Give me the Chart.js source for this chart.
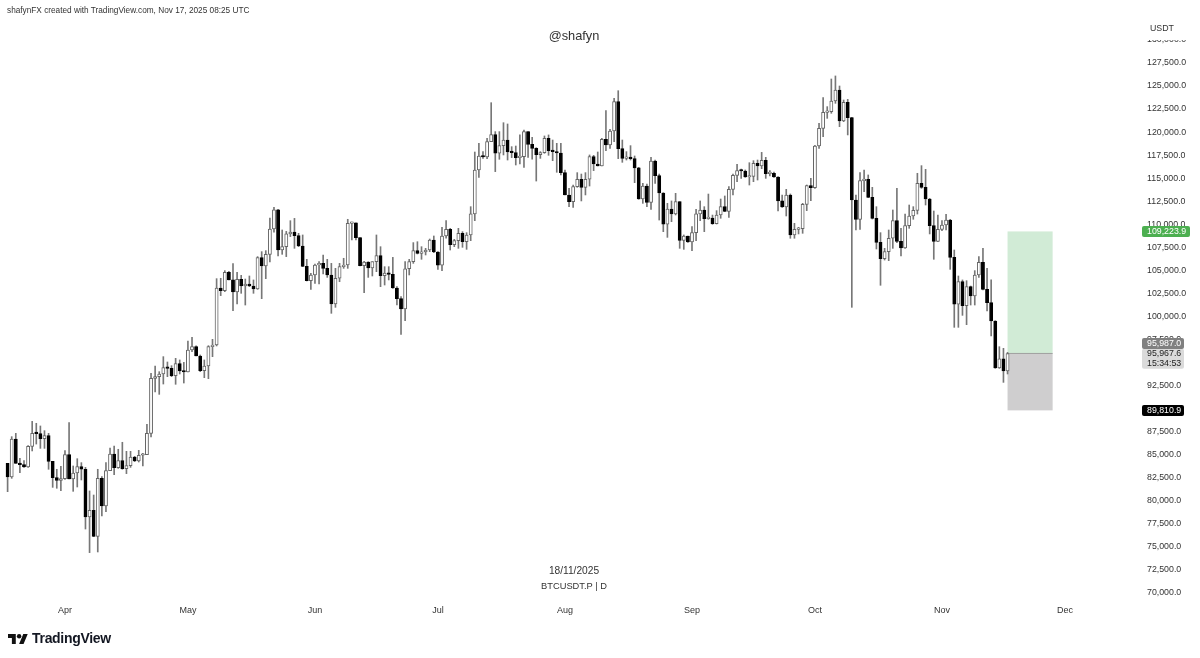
<!DOCTYPE html>
<html>
<head>
<meta charset="utf-8">
<title>BTCUSDT.P | D</title>
<script src="https://cdn.jsdelivr.net/npm/chart.js@4/dist/chart.umd.min.js"></script>
<style>
  body { margin: 0; background: #fff; font-family: "Liberation Sans", Arial, sans-serif; color: #333; }
  #wrap { position: relative; width: 1200px; height: 658px; overflow: hidden; }
  canvas { display: block; }
  .txt { position: absolute; white-space: nowrap; }
  .center { transform: translateX(-50%); }
</style>
</head>
<body>
<div id="wrap">
  <canvas id="chart" width="1200" height="658"></canvas>
  <div class="txt" style="left:7px;top:6px;font-size:8.25px;">shafynFX created with TradingView.com, Nov 17, 2025 08:25 UTC</div>
  <div class="txt center" style="left:574px;top:28px;font-size:12.8px;">@shafyn</div>
  <div class="txt center" style="left:574px;top:565px;font-size:10.2px;">18/11/2025</div>
  <div class="txt center" style="left:574px;top:581px;font-size:9.3px;">BTCUSDT.P | D</div>
  <svg class="txt" style="left:8px;top:632px;" width="20" height="14" viewBox="0 3 36 20"><path fill="#111" d="M14 22H7V11H0V4h14v18zM28 22h-8l7.5-18h8L28 22z"/><circle fill="#111" cx="20" cy="8" r="4"/></svg>
  <div class="txt" style="left:32px;top:630px;font-size:14px;font-weight:bold;color:#131722;letter-spacing:-0.3px;">TradingView</div>
</div>
<script>
// daily candles, index 0 = 18 Mar 2025, every open is the previous close
const firstOpen = 84070;
const closes = [
  82580, 86710, 84070, 83920, 83670, 85910, 87320, 87290, 86740, 87070,
  84280, 82510, 82220, 82400, 85010, 82370, 83020, 83710, 83420, 78250,
  78970, 76150, 82440, 79440, 83270, 85080, 83600, 84360, 83490, 83810,
  84750, 84320, 84940, 85010, 87320, 93290, 93470, 93760, 94450, 94370,
  93580, 94880, 94080, 93970, 96360, 96720, 95710, 94120, 94630, 96720,
  96900, 103090, 102800, 104790, 103960, 102650, 104030, 103300, 103520, 103300,
  102980, 106380, 105470, 106740, 109490, 111580, 107210, 107570, 108950, 109160,
  108760, 107640, 105440, 103880, 104500, 105580, 105760, 105220, 104500, 101350,
  104140, 105400, 105580, 110100, 110170, 108550, 105510, 105910, 105260, 105940,
  106600, 104430, 104710, 104570, 103090, 101930, 100810, 105180, 105940, 107140,
  106850, 106990, 107210, 108290, 106990, 105550, 108730, 109450, 107790, 108220,
  109020, 108110, 108840, 111120, 115890, 117410, 117300, 118960, 119720, 117700,
  118530, 119140, 117840, 117770, 117230, 117330, 120050, 118670, 118240, 117550,
  117770, 119320, 117990, 117880, 117730, 115600, 113180, 112450, 114080, 114880,
  114010, 114880, 117330, 116540, 116320, 119210, 118600, 120120, 123300, 118200,
  117150, 117190, 117120, 116110, 112740, 114150, 112380, 116860, 115270, 113390,
  110010, 111660, 111120, 112450, 108260, 108730, 108080, 109090, 111120, 111550,
  110610, 110680, 110070, 111010, 111910, 111400, 113790, 115310, 115820, 115780,
  115130, 115200, 116610, 116320, 116940, 115490, 115530, 115130, 112530, 111870,
  113180, 108840, 109450, 109520, 112160, 114190, 113970, 118490, 120410, 122140,
  122220, 123370, 124570, 121200, 123230, 121570, 112630, 110540, 114730, 114880,
  112920, 110640, 108040, 106270, 107030, 108480, 110390, 108150, 107430, 109850,
  110900, 111510, 114440, 114010, 112740, 109850, 108150, 109450, 109920, 110460,
  106410, 101320, 103770, 101170, 103230, 102220, 104500, 105870, 102940, 101500,
  99510, 94410, 95390, 94080, 95967.6
];
const highs = [
  84070, 86960, 87320, 84610, 84360, 85980, 88620, 88410, 88120, 87610,
  87320, 84280, 83420, 83740, 85440, 88480, 83780, 84570, 84140, 83630,
  81070, 80630, 83420, 82620, 84140, 85730, 85950, 85590, 86350, 85370,
  85370, 84830, 85480, 85150, 88300, 93830, 94630, 94010, 95640, 95060,
  94660, 95460, 95280, 95020, 97340, 97740, 96800, 95820, 95280, 96830,
  97520, 104100, 104140, 104970, 104900, 105730, 104790, 104460, 104060, 104390,
  103960, 106490, 107030, 107140, 110680, 111840, 111620, 109380, 109230, 110390,
  110640, 109020, 108840, 106200, 104680, 105690, 105940, 106670, 106200, 105760,
  105220, 105760, 106310, 110540, 110250, 110170, 108550, 105980, 105940, 105940,
  108840, 107570, 105400, 105400, 106410, 103230, 102150, 105940, 106200, 108010,
  108110, 107570, 107390, 108400, 108730, 107030, 109670, 110390, 109560, 108370,
  109560, 109200, 109090, 111910, 117840, 118780, 117880, 119320, 123190, 120050,
  120050, 121020, 120880, 118420, 118490, 119690, 120230, 120050, 119430, 118310,
  117880, 119580, 119690, 119140, 118780, 118780, 115890, 113900, 114260, 115600,
  115450, 115600, 117520, 117480, 117840, 119320, 122320, 120300, 123660, 124490,
  119140, 117880, 118530, 117410, 116180, 114440, 114370, 117260, 116970, 115450,
  113430, 112270, 112530, 113360, 112450, 108840, 108730, 109740, 111620, 112530,
  111910, 113280, 111000, 111480, 112740, 113070, 114080, 115450, 116500, 116000,
  115890, 116680, 116900, 116970, 117800, 117260, 115820, 115670, 115170, 113180,
  113790, 113290, 110100, 109670, 112270, 114260, 114980, 118560, 120950, 123740,
  122760, 125760, 126090, 125000, 123480, 123550, 121600, 113180, 115600, 115890,
  115350, 114010, 111910, 109090, 107390, 109380, 111550, 113900, 109560, 111110,
  112090, 111910, 115530, 116360, 115960, 112810, 111440, 111010, 110390, 111080,
  110540, 107210, 104390, 103960, 103880, 103300, 104970, 106490, 107390, 105220,
  103960, 99540, 96720, 96540, 96100
];
const lows = [
  80990, 82440, 84070, 83060, 83630, 83630, 85410, 86160, 85690, 85690,
  83420, 81460, 81360, 81100, 82330, 82370, 81030, 81500, 82260, 76940,
  74380, 76110, 74450, 78350, 78820, 83270, 82840, 83520, 83420, 82950,
  83630, 84250, 84210, 83780, 85010, 86920, 91810, 91550, 92670, 93470,
  93470, 92640, 93760, 92780, 93970, 96180, 95710, 94010, 93360, 93250,
  95640, 96800, 102260, 102690, 103960, 100630, 101350, 102510, 101240, 103230,
  102510, 102940, 101930, 104100, 105910, 109130, 106560, 106740, 106490, 108660,
  107390, 107570, 105400, 103850, 102940, 103590, 103520, 104610, 104240, 100340,
  100990, 103770, 105220, 105220, 108290, 108290, 105470, 102580, 104240, 104390,
  104860, 103230, 103410, 103960, 103050, 101240, 98060, 99540, 104500, 105760,
  106780, 106200, 106670, 107030, 106920, 105110, 104970, 108480, 107210, 107570,
  107390, 107500, 107280, 108220, 110390, 115090, 117150, 117120, 118960, 115710,
  117050, 117520, 116970, 117230, 116430, 116540, 116180, 117260, 117050, 114690,
  117150, 117700, 117480, 116900, 115640, 115350, 113180, 111910, 111840, 114010,
  112530, 113180, 114150, 115820, 116320, 116320, 117990, 118240, 118960, 117120,
  116720, 116970, 116970, 114510, 112710, 112270, 111910, 111620, 114440, 110460,
  109200, 108580, 110280, 111010, 107390, 107280, 108040, 107140, 108220, 110390,
  109200, 110540, 109990, 110030, 110650, 111370, 110750, 113180, 114620, 114980,
  115090, 114260, 114620, 114800, 116030, 114980, 115240, 115090, 111440, 111840,
  110900, 108480, 108480, 108950, 109020, 111480, 112560, 113900, 118240, 119500,
  121490, 122040, 123120, 120590, 121130, 119690, 100990, 109380, 109450, 113540,
  112890, 110570, 107320, 103380, 106120, 106050, 107390, 108000, 106560, 107390,
  109560, 110540, 111110, 113900, 112090, 108950, 106200, 108110, 109310, 109380,
  105110, 98820, 98820, 100120, 99110, 101240, 101240, 104240, 102870, 100590,
  97880, 94370, 94370, 92850, 93760
];
const monthLabels = ["Apr", "May", "Jun", "Jul", "Aug", "Sep", "Oct", "Nov", "Dec"];
const monthDays = [14, 44, 75, 105, 136, 167, 197, 228, 258];
const priceTicks = [
  70000, 72500, 75000, 77500, 80000, 82500, 85000, 87500, 90000, 92500, 95000, 97500, 100000,
  102500, 105000, 107500, 110000, 112500, 115000, 117500, 120000, 122500, 125000, 127500, 130000
];

// long position drawing
const positionDays = [244, 255];
const entryPrice = 95987.0;
const targetPrice = 109223.9;
const stopPrice = 89810.9;
const lastPrice = 95967.6;
const countdown = "15:34:53";

const opens = closes.map((c, i) => (i === 0 ? firstOpen : closes[i - 1]));
const priceText = (v) => v.toLocaleString("en-US", { minimumFractionDigits: 1, maximumFractionDigits: 1 });
const uiFont = "'Liberation Sans', Arial, sans-serif";

const tag = (ctx, x, w, midY, h, bg, lines, color) => {
    ctx.fillStyle = bg;
    ctx.beginPath();
    ctx.roundRect(x, midY - h / 2, w, h, 2);
    ctx.fill();
    ctx.fillStyle = color;
    ctx.font = "8.8px " + uiFont;
    ctx.textAlign = "left";
    ctx.textBaseline = "middle";
    lines.forEach((line, i) => {
        ctx.fillText(line, x + 5, midY + (i - (lines.length - 1) / 2) * 9.5);
    });
};

const positionBox = {
    id: "positionBox",
    beforeDatasetsDraw(chart) {
        const { ctx, scales: { x, y } } = chart;
        const left = x.getPixelForValue(positionDays[0]);
        const right = x.getPixelForValue(positionDays[1]);
        const entry = y.getPixelForValue(entryPrice);
        const target = y.getPixelForValue(targetPrice);
        const stop = y.getPixelForValue(stopPrice);
        ctx.save();
        ctx.fillStyle = "#d1ebd6";
        ctx.fillRect(left, target, right - left, entry - target);
        ctx.fillStyle = "#cfcecf";
        ctx.fillRect(left, entry, right - left, stop - entry);
        ctx.fillStyle = "#a0a0a0";
        ctx.fillRect(left, entry - 0.5, right - left, 1);
        ctx.restore();
    },
    afterDraw(chart) {
        const { ctx, scales: { y } } = chart;
        ctx.save();
        // tags sit on top of the axis labels, like in TradingView
        tag(ctx, 1142, 48, y.getPixelForValue(targetPrice), 11, "#4caf50", [priceText(targetPrice)], "#fff");
        tag(ctx, 1142, 42, y.getPixelForValue(lastPrice) + 5, 20, "#dadada", [priceText(lastPrice), countdown], "#222");
        tag(ctx, 1142, 42, y.getPixelForValue(entryPrice) - 10, 11, "#808080", [priceText(entryPrice)], "#fff");
        tag(ctx, 1142, 42, y.getPixelForValue(stopPrice), 11, "#000", [priceText(stopPrice)], "#fff");
        ctx.fillStyle = "#fff";
        ctx.fillRect(1138, 0, 62, 40);
        ctx.fillStyle = "#333";
        ctx.font = "8.8px " + uiFont;
        ctx.textAlign = "left";
        ctx.textBaseline = "middle";
        ctx.fillText("USDT", 1150, 29);
        ctx.restore();
    }
};

new Chart(document.getElementById("chart"), {
    type: "bar",
    data: {
        datasets: [
            {
                label: "Body",
                data: closes.map((c, i) => ({ x: i, y: [opens[i], c] })),
                grouped: false,
                barThickness: 3.2,
                minBarLength: 1.5,
                borderWidth: 1,
                borderSkipped: false,
                backgroundColor: closes.map((c, i) => (c >= opens[i] ? "#fff" : "#000")),
                borderColor: closes.map((c, i) => (c >= opens[i] ? "#666" : "#000")),
            },
            {
                label: "Wick",
                data: closes.map((c, i) => ({ x: i, y: [lows[i], highs[i]] })),
                grouped: false,
                barThickness: 1,
                backgroundColor: "#777",
            },
        ],
    },
    options: {
        responsive: false,
        animation: false,
        layout: { padding: { top: 36, bottom: 30, left: 0, right: 0 } },
        plugins: { legend: { display: false }, tooltip: { enabled: false } },
        scales: {
            x: {
                type: "linear",
                offset: false,
                min: -1.855,
                max: 275.1,
                grid: { display: false, drawTicks: false },
                border: { display: false },
                afterBuildTicks: (axis) => {
                    axis.ticks = monthDays.map((d) => ({ value: d }));
                },
                afterFit: (axis) => {
                    axis.height = 28;
                },
                ticks: {
                    autoSkip: false,
                    maxRotation: 0,
                    padding: 5,
                    color: "#333",
                    font: { family: uiFont, size: 9 },
                    callback: (value) => monthLabels[monthDays.indexOf(value)],
                },
            },
            y: {
                position: "right",
                min: 69241,
                max: 130424,
                grid: { display: false, drawTicks: false },
                border: { display: false },
                afterBuildTicks: (axis) => {
                    axis.ticks = priceTicks.map((v) => ({ value: v }));
                },
                afterFit: (axis) => {
                    axis.width = 65;
                },
                ticks: {
                    autoSkip: false,
                    padding: 12,
                    color: "#333",
                    font: { family: uiFont, size: 8.8 },
                    callback: (value) => priceText(value),
                },
            },
        },
    },
    plugins: [positionBox],
});
</script>
</body>
</html>
